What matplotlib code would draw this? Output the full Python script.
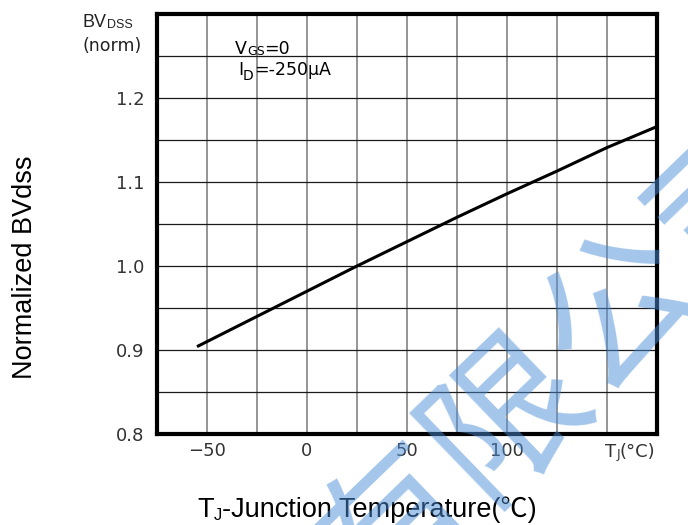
import matplotlib
matplotlib.use("Agg")
import matplotlib.pyplot as plt

# BVdss vs junction temperature
temp_c = [-55, -50, -25, 0, 25, 50, 75, 100, 125, 150, 175]
bv_norm = [0.904, 0.910, 0.940, 0.970, 1.0, 1.029, 1.058, 1.086, 1.113, 1.141, 1.166]

x_ticks = [-75, -50, -25, 0, 25, 50, 75, 100, 125, 150, 175]
x_labels = ['', '\u221250', '', '0', '', '50', '', '100', '', '', '']
y_ticks = [0.8, 0.85, 0.9, 0.95, 1.0, 1.05, 1.1, 1.15, 1.2, 1.25, 1.3]
y_labels = ['0.8', '', '0.9', '', '1.0', '', '1.1', '', '1.2', '', '']

plt.rcParams['font.family'] = ['Liberation Sans', 'DejaVu Sans', 'Noto Sans CJK SC']

W, H = 688, 525
fig = plt.figure(figsize=(W / 100, H / 100), dpi=100)
ax = fig.add_axes([157 / W, 1 - 434 / H, 500 / W, 420 / H])

ax.plot(temp_c, bv_norm, color='black', lw=2.2, solid_capstyle='butt', zorder=3)

ax.set_xlim(-75, 175)
ax.set_ylim(0.8, 1.3)
ax.set_xticks(x_ticks)
ax.set_xticklabels(x_labels)
ax.set_yticks(y_ticks)
ax.set_yticklabels(y_labels)
ax.tick_params(length=0, labelsize=13, labelcolor='#333333')
ax.tick_params(axis='y', pad=9)
ax.tick_params(axis='x', pad=6)
for lbl in ax.get_xticklabels() + ax.get_yticklabels():
    lbl.set_family('DejaVu Sans')

ax.xaxis.grid(True, color='#8c8c8c', lw=1.3)
ax.yaxis.grid(True, color='#1a1a1a', lw=0.9)
ax.set_axisbelow(True)
for s in ax.spines.values():
    s.set_linewidth(3)
    s.set_color('black')

SANS = ['Liberation Sans', 'Noto Sans CJK SC']
WIDE = ['DejaVu Sans', 'Noto Sans CJK SC']


def chain(parts, x, y, color='black', family=SANS):
    # write pieces of text one after the other (for small-caps subscripts)
    prev = None
    for txt, size, dy in parts:
        if prev is None:
            prev = fig.text(x, y, txt, fontsize=size, color=color, va='baseline',
                            ha='left', family=family)
        else:
            prev = ax.annotate(txt, xy=(1, 0), xycoords=prev, xytext=(0, dy),
                               textcoords='offset points', fontsize=size, color=color,
                               va='bottom', ha='left', annotation_clip=False,
                               family=family)
    return prev


# top-left axis caption
chain([('BV', 13, 0), ('DSS', 9, 0)], 83 / W, 1 - 27 / H, color='#222222')
fig.text(142 / W, 1 - 51 / H, '(norm)', fontsize=12.5, ha='right', va='baseline',
         family='DejaVu Sans', color='#222222')

# test conditions
chain([('V', 12.5, 0), ('GS', 9, 0), ('=0', 12.5, 0)], 235 / W, 1 - 54 / H, family=WIDE)
chain([('I', 12.5, 0), ('D', 10, -3), ('=-250\u00b5A', 12.5, 3)], 238 / W, 1 - 75 / H,
      family=WIDE)

# Tj(°C) at the end of the x tick row
chain([('T', 13, 0), ('J', 9, 0), ('(\u00b0C)', 13, 0)], 605 / W, 1 - 457 / H,
      color='#333333', family=WIDE)

# axis titles
fig.text(25 / W, 1 - 267 / H, 'Normalized BVdss', rotation=90, fontsize=19.5,
         ha='center', va='center', family=SANS)
chain([('T', 19.5, 0), ('J', 12, 0), ('-Junction Temperature(\u2103)', 19.5, 0)],
      197 / W, 1 - 517 / H)

# distributor watermark
fig.text(567 / W, 1 - 367 / H, '有限公司', rotation=44, fontsize=113,
         family='Noto Sans CJK SC', color='#4b8dd7', alpha=0.5,
         ha='center', va='center', zorder=10)

fig.savefig('out.png', dpi=100)
